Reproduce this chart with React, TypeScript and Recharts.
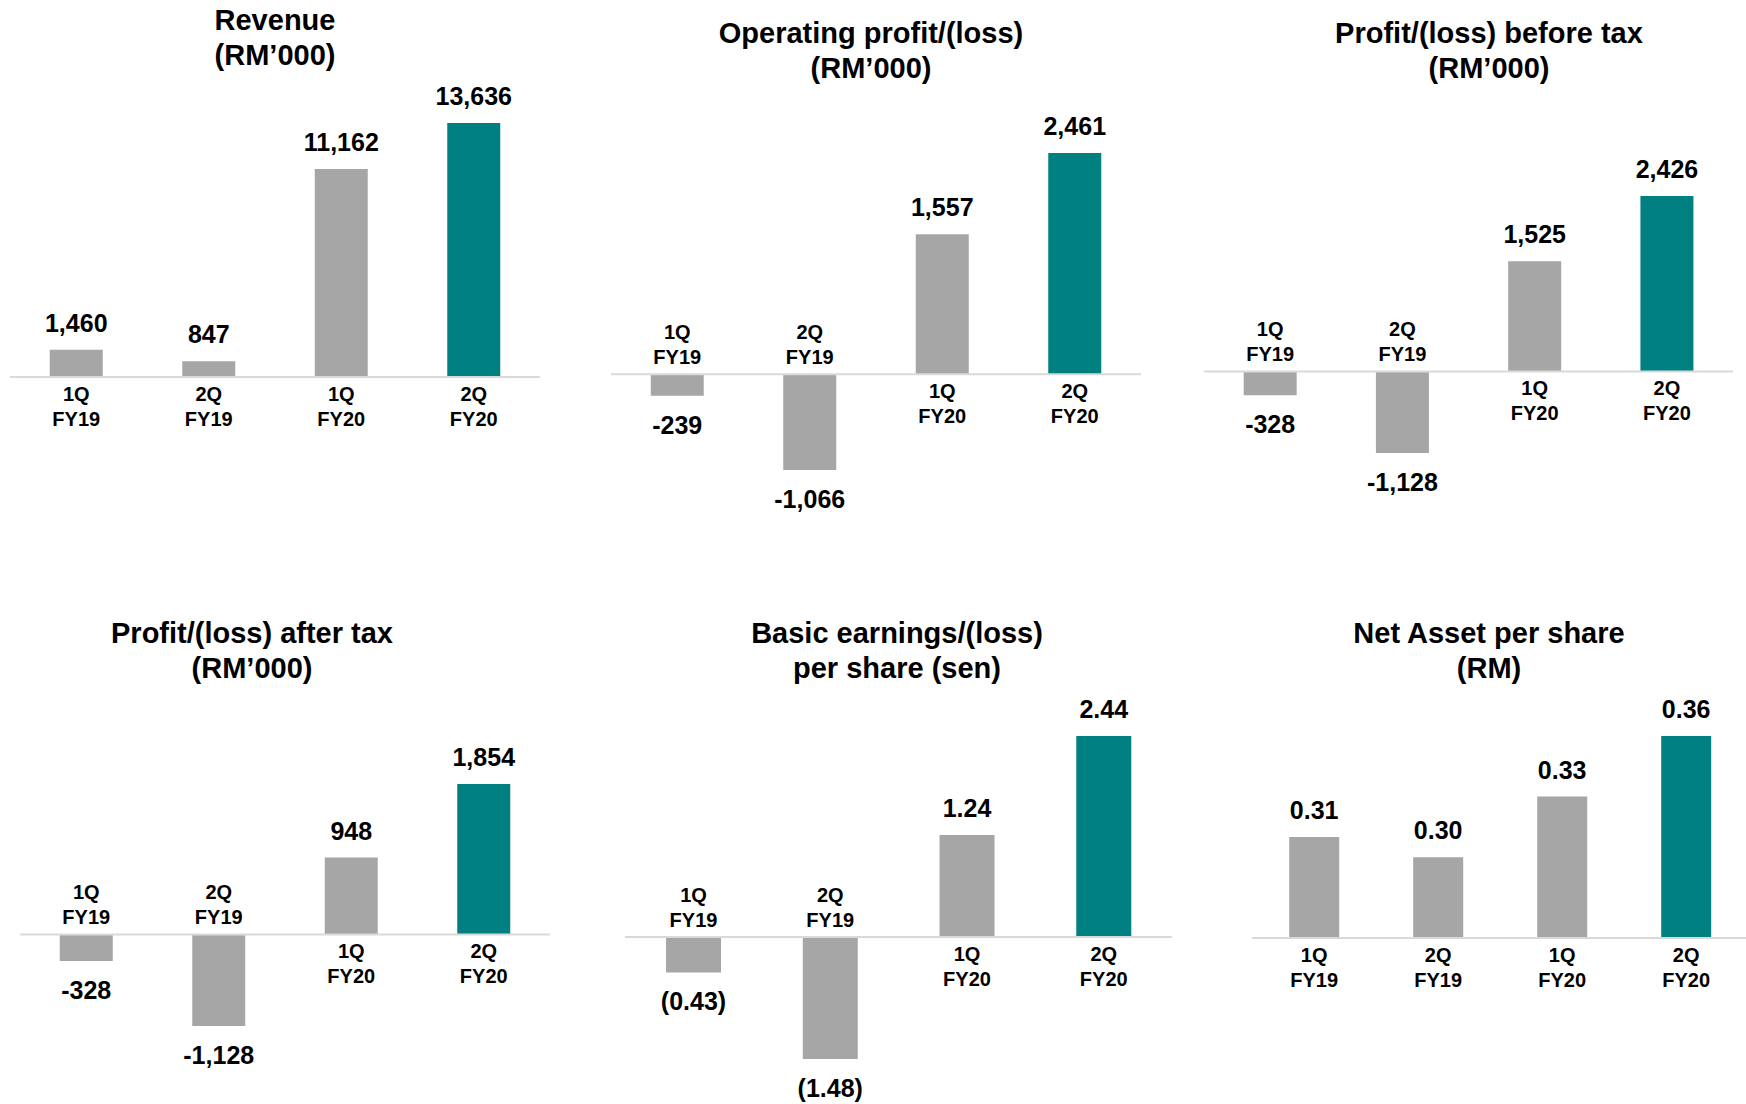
import { BarChart, Bar, XAxis, YAxis, Cell, LabelList, ReferenceLine } from 'recharts'

const CATEGORIES = ['1Q FY19', '2Q FY19', '1Q FY20', '2Q FY20']

// RM'000
const REVENUE = [1460, 847, 11162, 13636]
const OPERATING_PROFIT = [-239, -1066, 1557, 2461]
const PROFIT_BEFORE_TAX = [-328, -1128, 1525, 2426]
const PROFIT_AFTER_TAX = [-328, -1128, 948, 1854]
// sen
const EPS = [-0.43, -1.48, 1.24, 2.44]
// RM
const NAV_PER_SHARE = [0.31, 0.3, 0.33, 0.36]
const NAV_AXIS_MIN = 0.26

const GRAY = '#a6a6a6'
const TEAL = '#008080'
const AXIS = '#d9d9d9'
const FONT = '"Liberation Sans", Arial, sans-serif'

const fmtThousands = (v: number) => v.toLocaleString('en-US')
const fmtEps = (v: number) => (v < 0 ? `(${Math.abs(v).toFixed(2)})` : v.toFixed(2))
const fmtNav = (v: number) => v.toFixed(2)

type Fmt = (v: number) => string

// value above/below the bar end, category label on the other side of the axis
function makeLabel(values: number[], fmt: Fmt) {
  return (props: any) => {
    const vb = props.viewBox ?? props
    const x = Number(vb.x)
    const y = Number(vb.y)
    const w = Number(vb.width)
    const h = Number(vb.height)
    const i = props.index
    const v = values[i] ?? Number(props.value)
    const top = Math.min(y, y + h)
    const bottom = Math.max(y, y + h)
    const cx = x + w / 2
    const [q, fy] = CATEGORIES[i].split(' ')
    const common = { textAnchor: 'middle' as const, fontFamily: FONT, fontWeight: 700, fill: '#000' }
    if (v >= 0) {
      return (
        <g>
          <text x={cx} y={top - 18} fontSize={25} {...common}>{fmt(v)}</text>
          <text x={cx} y={bottom + 24} fontSize={20} {...common}>{q}</text>
          <text x={cx} y={bottom + 49} fontSize={20} {...common}>{fy}</text>
        </g>
      )
    }
    return (
      <g>
        <text x={cx} y={bottom + 38} fontSize={25} {...common}>{fmt(v)}</text>
        <text x={cx} y={top - 35} fontSize={20} {...common}>{q}</text>
        <text x={cx} y={top - 10} fontSize={20} {...common}>{fy}</text>
      </g>
    )
  }
}

interface PanelProps {
  title: string[]
  values: number[]
  fmt: Fmt
  base?: number
  left: number
  top: number
  width: number
  height: number
  margin: { top: number; right: number; bottom: number; left: number }
  titleX: number
  titleTop: number
}

function Panel({ title, values, fmt, base = 0, left, top, width, height, margin, titleX, titleTop }: PanelProps) {
  const data = CATEGORIES.map((name, i) => ({ name, value: values[i] }))
  const lo = Math.min(base, ...values)
  const hi = Math.max(...values)
  return (
    <>
      <div
        style={{
          position: 'absolute',
          left: titleX - 300,
          top: titleTop,
          width: 600,
          textAlign: 'center',
          fontFamily: FONT,
          fontWeight: 700,
          fontSize: 29,
          lineHeight: '35px',
          color: '#000',
        }}
      >
        {title.map((t) => (
          <div key={t}>{t}</div>
        ))}
      </div>
      <div style={{ position: 'absolute', left, top }}>
        <BarChart width={width} height={height} data={data} margin={margin} barCategoryGap="30%">
          <XAxis dataKey="name" type="category" hide />
          <YAxis type="number" domain={[lo, hi]} allowDataOverflow hide />
          <ReferenceLine y={base} stroke={AXIS} strokeWidth={2} />
          <Bar dataKey="value" isAnimationActive={false}>
            {data.map((d, i) => (
              <Cell key={d.name} fill={i === data.length - 1 ? TEAL : GRAY} />
            ))}
            <LabelList dataKey="value" content={makeLabel(values, fmt)} />
          </Bar>
        </BarChart>
      </div>
    </>
  )
}

export default function App() {
  return (
    <div
      style={{
        position: 'absolute',
        left: 0,
        top: 0,
        width: 1746,
        height: 1104,
        background: '#fff',
        overflow: 'hidden',
      }}
    >
      <Panel
        title={['Revenue', '(RM’000)']}
        values={REVENUE}
        fmt={fmtThousands}
        left={0}
        top={0}
        width={582}
        height={552}
        margin={{ top: 123, right: 42, bottom: 175, left: 10 }}
        titleX={275}
        titleTop={2.5}
      />
      <Panel
        title={['Operating profit/(loss)', '(RM’000)']}
        values={OPERATING_PROFIT}
        fmt={fmtThousands}
        left={582}
        top={0}
        width={582}
        height={552}
        margin={{ top: 153, right: 23, bottom: 82, left: 29 }}
        titleX={871}
        titleTop={16}
      />
      <Panel
        title={['Profit/(loss) before tax', '(RM’000)']}
        values={PROFIT_BEFORE_TAX}
        fmt={fmtThousands}
        left={1164}
        top={0}
        width={582}
        height={552}
        margin={{ top: 196, right: 13, bottom: 99, left: 40 }}
        titleX={1489}
        titleTop={16}
      />
      <Panel
        title={['Profit/(loss) after tax', '(RM’000)']}
        values={PROFIT_AFTER_TAX}
        fmt={fmtThousands}
        left={0}
        top={552}
        width={582}
        height={552}
        margin={{ top: 232, right: 32, bottom: 78, left: 20 }}
        titleX={252}
        titleTop={616}
      />
      <Panel
        title={['Basic earnings/(loss)', 'per share (sen)']}
        values={EPS}
        fmt={fmtEps}
        left={582}
        top={552}
        width={600}
        height={552}
        margin={{ top: 184, right: 10, bottom: 45, left: 43 }}
        titleX={897}
        titleTop={616}
      />
      <Panel
        title={['Net Asset per share', '(RM)']}
        values={NAV_PER_SHARE}
        fmt={fmtNav}
        base={NAV_AXIS_MIN}
        left={1164}
        top={552}
        width={586}
        height={552}
        margin={{ top: 184, right: 2, bottom: 166, left: 88 }}
        titleX={1489}
        titleTop={616}
      />
    </div>
  )
}
